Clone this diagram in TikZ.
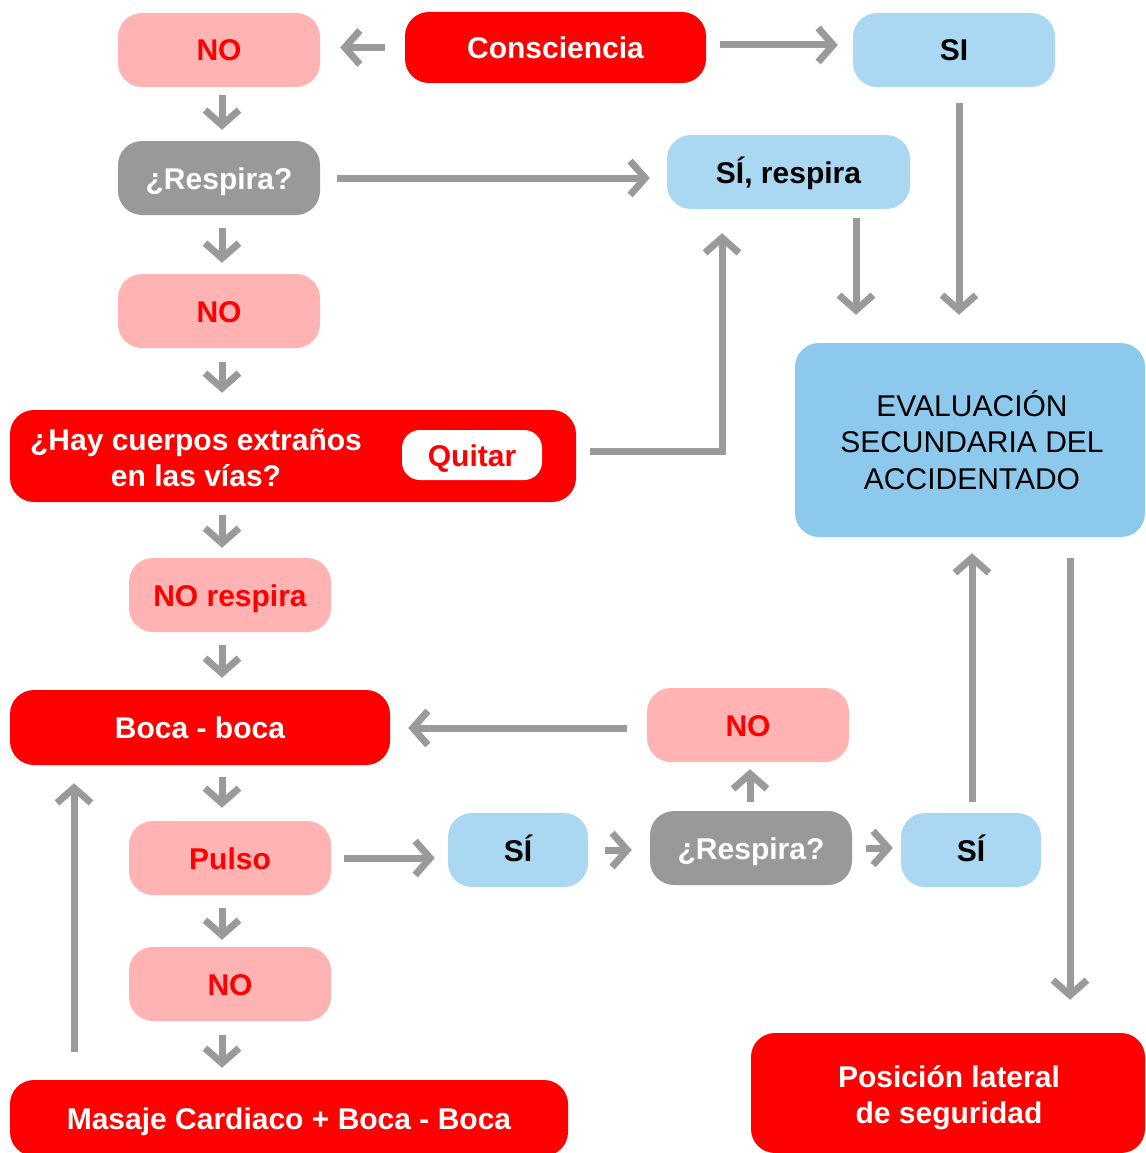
\documentclass[tikz,border=0pt]{standalone}
\usepackage{fontspec}
\setmainfont{Liberation Sans}
\usetikzlibrary{arrows.meta,calc}
\definecolor{cred}{HTML}{FF0000}
\definecolor{cpink}{HTML}{FFB3B3}
\definecolor{cgray}{HTML}{999999}
\definecolor{cblue}{HTML}{AAD8F2}
\definecolor{cbluedark}{HTML}{8DC9EC}
\definecolor{carr}{HTML}{9A9A9A}
\begin{document}
\begin{tikzpicture}[x=1pt,y=-1pt,
  box/.style={rounded corners=24pt, inner sep=0pt, align=center,
    font=\fontsize{30}{36}\selectfont\bfseries},
  one/.style={text height=22pt, text depth=0pt},
  redbox/.style={box, fill=cred, text=white},
  pinkbox/.style={box, one, fill=cpink, text=cred},
  graybox/.style={box, one, fill=cgray, text=white},
  bluebox/.style={box, one, fill=cblue, text=black},
  sz/.style 2 args={minimum width=#1pt, minimum height=#2pt},
  arr/.style={draw=carr, line width=7pt, -{Straight Barb[length=15pt,width=34pt]}},
]
\useasboundingbox (0,0) rectangle (1145,1153);

% nodes
\node[pinkbox, sz={202}{74}] (no1) at (219,50) {NO};
\node[redbox, one, sz={301}{71}] (cons) at (555.5,47.5) {Consciencia};
\node[bluebox, sz={202}{74}] (si) at (954,50) {SI};
\node[graybox, sz={202}{74}] (resp1) at (219,178) {¿Respira?};
\node[bluebox, sz={243}{74}] (sires) at (788.5,172) {SÍ, respira};
\node[pinkbox, sz={202}{74}] (no2) at (219,311) {NO};
\node[redbox, sz={566}{92}] (hay) at (293,456) {};
\node[box, text=white] (haytxt) at (196,458) {¿Hay cuerpos extraños\\en las vías?};
\node[box, one, fill=white, text=cred, rounded corners=18pt, sz={140}{50}] (quitar) at (472,455) {Quitar};
\node[box, fill=cbluedark, text=black, font=\fontsize{30}{36.5}\selectfont, sz={350}{194}] (eval) at (970,440) {};
\node[box, text=black, font=\fontsize{30}{36.5}\selectfont] (evaltxt) at (972,440) {EVALUACIÓN\\SECUNDARIA DEL\\ACCIDENTADO};
\node[pinkbox, sz={202}{74}] (nores) at (230,595) {NO respira};
\node[redbox, one, sz={380}{75}] (boca) at (200,727.5) {Boca - boca};
\node[pinkbox, sz={202}{74}] (no3) at (748,725) {NO};
\node[pinkbox, sz={202}{74}] (pulso) at (230,858) {Pulso};
\node[bluebox, sz={140}{74}] (si1) at (518,850) {SÍ};
\node[graybox, sz={202}{74}] (resp2) at (751,848) {¿Respira?};
\node[bluebox, sz={140}{74}] (si2) at (971,850) {SÍ};
\node[pinkbox, sz={202}{74}] (no4) at (230,984) {NO};
\node[redbox, one, sz={558}{76}] (masaje) at (289,1118) {Masaje Cardiaco + Boca - Boca};
\node[redbox, sz={394}{120}] (pos) at (948,1093) {};
\node[box, text=white] (postxt) at (949,1098) {Posición lateral\\de seguridad};

% connectors
\draw[arr, shorten <=20pt, shorten >=20pt] (cons.west) -- (cons.west -| no1.east);
\draw[arr, shorten <=14pt, shorten >=15pt] ([yshift=2.5pt]cons.east) -- ([yshift=2.5pt]cons.east -| si.west);
\draw[arr, shorten <=8pt, shorten >=11pt] ([xshift=3pt]no1.south) -- ([xshift=3pt]resp1.north);
\draw[arr, shorten <=17pt, shorten >=17pt] (resp1.east) -- (resp1.east -| sires.west);
\draw[arr, shorten <=16pt, shorten >=28pt] ([xshift=5pt]si.south) -- ([xshift=5pt]si.south |- eval.north);
\draw[arr, shorten <=9pt, shorten >=28pt] ([xshift=67.5pt]sires.south) -- ([xshift=67.5pt]sires.south |- eval.north);
\draw[arr, shorten <=13pt, shorten >=11pt] ([xshift=3pt]resp1.south) -- ([xshift=3pt]no2.north);
\draw[arr, shorten <=14pt, shorten >=17pt] ([xshift=3pt]no2.south) -- ([xshift=3pt]no2.south |- hay.north);
\draw[arr, shorten <=14pt, shorten >=24pt] ([yshift=5pt]hay.east) -| ([xshift=-66.5pt]sires.south);
\draw[arr, shorten <=13pt, shorten >=10pt] ([xshift=-8pt]nores.north |- hay.south) -- ([xshift=-8pt]nores.north);
\draw[arr, shorten <=13pt, shorten >=12pt] ([xshift=-8pt]nores.south) -- ([xshift=-8pt]nores.south |- boca.north);
\draw[arr, shorten <=12pt, shorten >=13pt] ([xshift=-8pt]pulso.north |- boca.south) -- ([xshift=-8pt]pulso.north);
\draw[arr, shorten <=13pt, shorten >=13pt] (pulso.east) -- (pulso.east -| si1.west);
\draw[arr, shorten <=17pt, shorten >=18pt] (si1.east) -- (si1.east -| resp2.west);
\draw[arr, shorten <=9pt, shorten >=7pt] ([xshift=-1pt]resp2.north) -- ([xshift=-1pt]resp2.north |- no3.south);
\draw[arr, shorten <=20pt, shorten >=18pt] ([yshift=-3pt]no3.west) -- ([yshift=-3pt]no3.west -| boca.east);
\draw[arr, shorten <=14pt, shorten >=8pt] (resp2.east) -- (resp2.east -| si2.west);
\draw[arr, shorten <=11pt, shorten >=16pt] ([xshift=1pt]si2.north) -- ([xshift=1pt]si2.north |- eval.south);
\draw[arr, shorten <=21pt, shorten >=33pt] ([xshift=100pt]eval.south) -- ([xshift=100pt]eval.south |- pos.north);
\draw[arr, shorten <=13pt, shorten >=7pt] ([xshift=-8pt]pulso.south) -- ([xshift=-8pt]no4.north);
\draw[arr, shorten <=14pt, shorten >=12pt] ([xshift=-8pt]no4.south) -- ([xshift=-8pt]no4.south |- masaje.north);
\draw[arr, shorten <=28pt, shorten >=18pt] ([xshift=-215pt]masaje.north) -- ([xshift=-215pt]masaje.north |- boca.south);
\end{tikzpicture}
\end{document}
